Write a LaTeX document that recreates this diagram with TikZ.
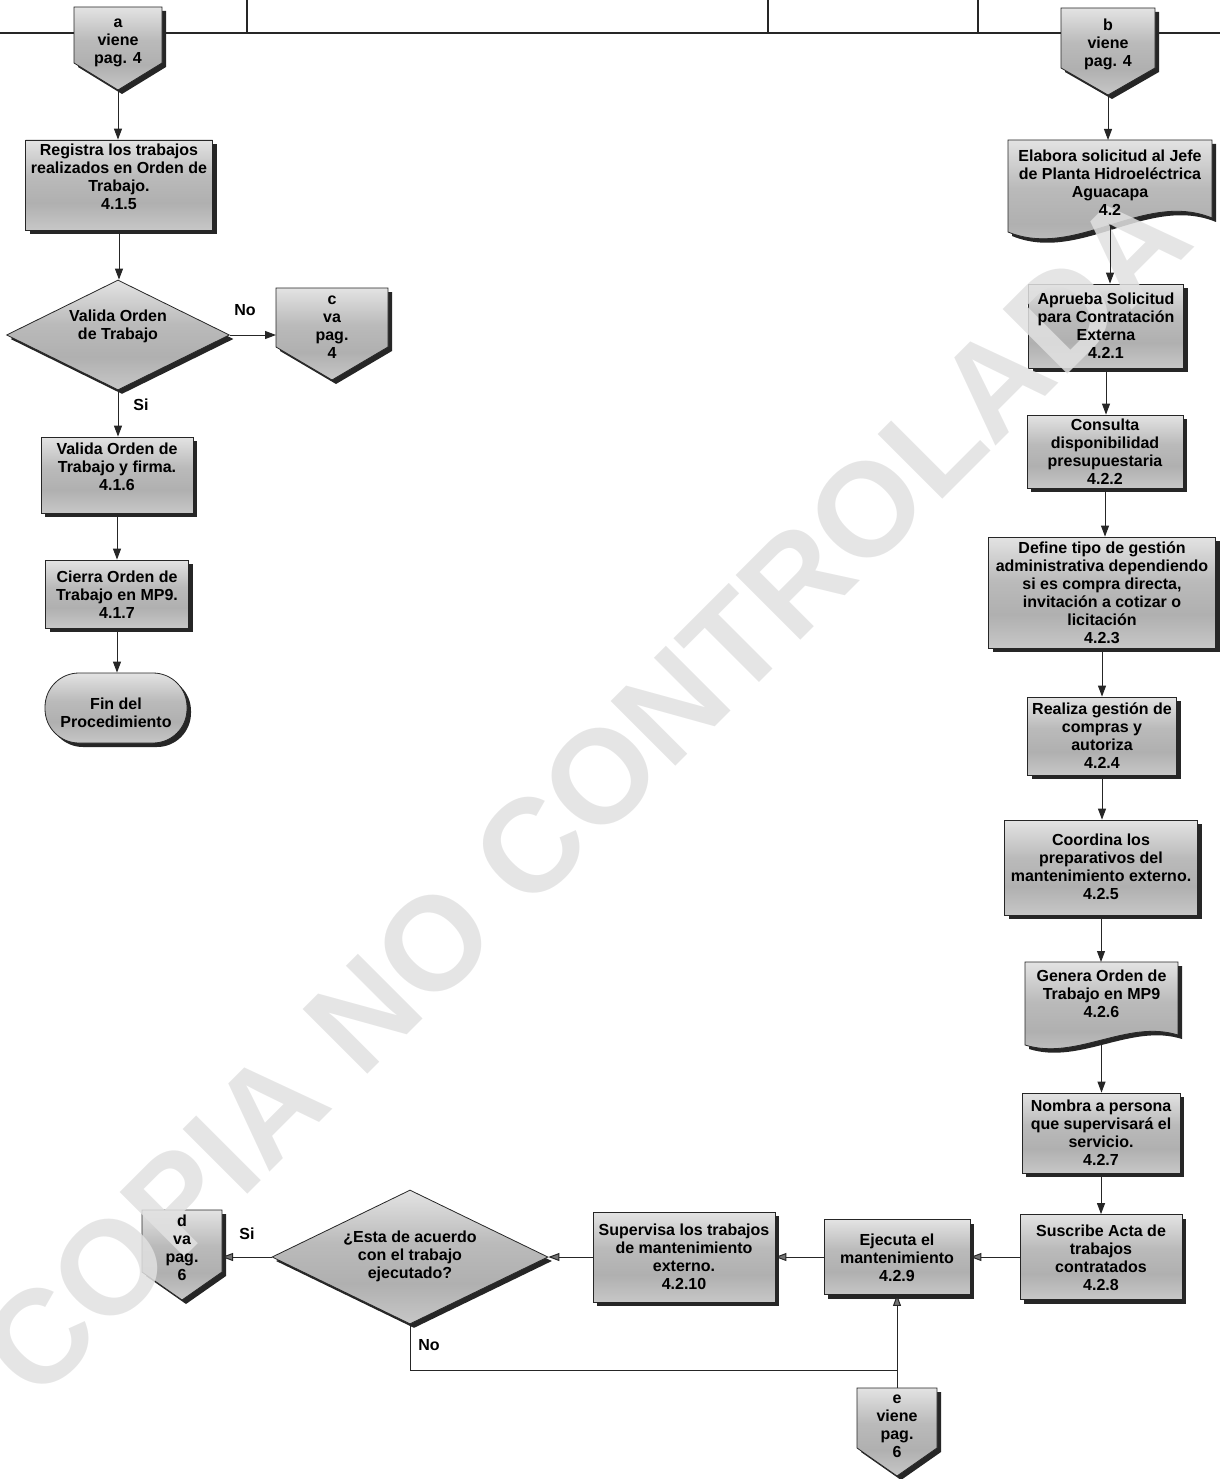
\documentclass[tikz,border=0pt]{standalone}
\usepackage{fontspec}
\setmainfont{Liberation Sans}
\usetikzlibrary{arrows.meta,shapes.geometric,shadows}

% grey bevel-like fill of the flowchart symbols (light top, darker lower middle)
\pgfdeclareverticalshading{boxshade}{100bp}{%
  color(0bp)=(black!22); color(25bp)=(black!22); color(40bp)=(black!31);
  color(55bp)=(black!27); color(75bp)=(black!11); color(100bp)=(black!11)}

\definecolor{wmgray}{RGB}{225,225,225}

% symbols are filled below the watermark, their texts and the flow lines above it
\pgfdeclarelayer{shapes}
\pgfdeclarelayer{mark}
\pgfsetlayers{shapes,mark,main}

\tikzset{
  txt/.style={font=\bfseries\fontsize{16}{18}\selectfont, align=center, inner sep=0pt},
  shapeframe/.style={draw=black!85, line width=0.8pt, shading=boxshade},
  dshadow/.style={drop shadow={shadow xshift=4pt, shadow yshift=-4pt, fill=black!85, opacity=1}},
  proc/.style={rectangle, shapeframe, shade, dshadow},
  decision/.style={diamond, aspect=2, shapeframe, shade, dshadow},
  terminal/.style={rectangle, rounded corners=34pt, shapeframe, shade, dshadow},
  flow/.style={draw=black!85, line width=1pt},
  arr/.style={flow, -{Triangle[length=11pt,width=8pt]}},
  arrg/.style={flow, -{Triangle[length=11pt,width=8pt,fill=black!55]}},
  lbl/.style={txt},
  frame/.style={draw=black!85, line width=1.3pt},
  wm/.style={font=\bfseries\fontsize{133}{133}\selectfont, text=wmgray, text opacity=0.85, inner sep=0pt}
}

% symbol with text: style, name, x, y, width, height, text y, text
\newcommand{\flowbox}[8]{%
  \begin{pgfonlayer}{shapes}
    \node[#1, minimum width=#5pt, minimum height=#6pt, inner sep=0pt] (#2) at (#3,#4) {};
  \end{pgfonlayer}
  \node[txt] (#2-text) at (#3,#7) {#8};
}

% off-page connector: name, centre x, top y, half width, side bottom y, tip y, text y, text
\newcommand{\offpage}[8]{%
  \begin{pgfonlayer}{shapes}
  \fill[black!85] (#2-#4+4,#3+4) -- (#2+#4+4,#3+4) -- (#2+#4+4,#5+4) -- (#2+4,#6+4) -- (#2-#4+4,#5+4) -- cycle;
  \shadedraw[shapeframe] (#2-#4,#3) -- (#2+#4,#3) -- (#2+#4,#5) -- (#2,#6) -- (#2-#4,#5) -- cycle;
  \end{pgfonlayer}
  \coordinate (#1-top) at (#2,#3);
  \coordinate (#1-tip) at (#2,#6);
  \coordinate (#1-west) at (#2-#4,#3+30);
  \coordinate (#1-east) at (#2+#4,#3+30);
  \node[txt] (#1) at (#2,#7) {#8};
}

% document symbol: name, left x, right x, top y, left bottom y, right bottom y, wave, text y, text
\newcommand{\docshape}[9]{%
  \begin{pgfonlayer}{shapes}
  \fill[black!85] (#2+4,#4+4) -- (#3+4,#4+4) -- (#3+4,#6+4)
    .. controls ({#2+2*(#3-#2)/3+4},#6-#7+4) and ({#2+(#3-#2)/3+4},#5+#7+4) .. (#2+4,#5+4) -- cycle;
  \shadedraw[shapeframe] (#2,#4) -- (#3,#4) -- (#3,#6)
    .. controls ({#2+2*(#3-#2)/3},#6-#7) and ({#2+(#3-#2)/3},#5+#7) .. (#2,#5) -- cycle;
  \end{pgfonlayer}
  \coordinate (#1-top) at ({(#2+#3)/2},#4);
  \coordinate (#1-bot) at ({(#2+#3)/2},{(#5+#6)/2});
  \node[txt] (#1) at ({(#2+#3)/2},#8) {#9};
}

\begin{document}
\begin{tikzpicture}[x=1pt,y=-1pt]
\useasboundingbox (0,0) rectangle (1220,1479);

% lane header lines
\coordinate (hl) at (0,33);
\coordinate (hr) at (1220,33);
\begin{pgfonlayer}{shapes}
\draw[frame] (hl) -- (hr);
\foreach \lx in {247,768,978} \draw[frame] (\lx,0) -- (\lx,33);
\end{pgfonlayer}

% ---- left lane ----
\offpage{a}{118}{7}{44}{63}{90}{43}{a\\viene\\pag. 4}
\flowbox{proc}{p415}{119}{185}{187}{90}{177}{Registra los trabajos\\realizados en Orden de\\Trabajo.\\4.1.5}
\flowbox{decision}{dia1}{118}{335}{223}{110}{326}{Valida Orden\\de Trabajo}
\offpage{c}{332}{288}{56}{347}{380}{327}{c\\va\\pag.\\4}
\flowbox{proc}{p416}{117}{475}{152}{76}{467}{Valida Orden de\\Trabajo y firma.\\4.1.6}
\flowbox{proc}{p417}{117}{594}{143}{68}{595}{Cierra Orden de\\Trabajo en MP9.\\4.1.7}
\flowbox{terminal}{fin}{116}{708}{142}{70}{713}{Fin del\\Procedimiento}
\node[lbl] (no1) at (245,310) {No};
\node[lbl] (si1) at (141,405) {Si};

% ---- right lane ----
\offpage{b}{1108}{8}{47}{68}{95}{44}{b\\viene\\pag. 4}
\docshape{d42}{1008}{1212}{140}{232}{218}{28}{183}{Elabora solicitud al Jefe\\de Planta Hidroeléctrica\\Aguacapa\\4.2}
\flowbox{proc}{p421}{1106}{326}{155}{84}{326}{Aprueba Solicitud\\para Contratación\\Externa\\4.2.1}
\flowbox{proc}{p422}{1105}{451.5}{156}{73}{452}{Consulta\\disponibilidad\\presupuestaria\\4.2.2}
\flowbox{proc}{p423}{1102}{592.5}{227}{111}{593}{Define tipo de gestión\\administrativa dependiendo\\si es compra directa,\\invitación a cotizar o\\licitación\\4.2.3}
\flowbox{proc}{p424}{1102}{736}{149}{78}{736}{Realiza gestión de\\compras y\\autoriza\\4.2.4}
\flowbox{proc}{p425}{1101}{867.5}{193}{95}{867}{Coordina los\\preparativos del\\mantenimiento externo.\\4.2.5}
\docshape{d426}{1025}{1178}{962}{1045}{1035}{16}{994}{Genera Orden de\\Trabajo en MP9\\4.2.6}
\flowbox{proc}{p427}{1101}{1133}{158}{80}{1133}{Nombra a persona\\que supervisará el\\servicio.\\4.2.7}
\flowbox{proc}{p428}{1101}{1257}{162}{85}{1258}{Suscribe Acta de\\trabajos\\contratados\\4.2.8}

% ---- bottom row ----
\flowbox{proc}{p429}{897}{1257}{146}{75}{1258}{Ejecuta el\\mantenimiento\\4.2.9}
\flowbox{proc}{p4210}{684}{1257}{182}{90}{1257}{Supervisa los trabajos\\de mantenimiento\\externo.\\4.2.10}
\flowbox{decision}{dia2}{410}{1257}{276}{134}{1256}{¿Esta de acuerdo\\con el trabajo\\ejecutado?}
\offpage{d}{182}{1210}{40}{1272}{1300}{1248}{d\\va\\pag.\\6}
\offpage{e}{897}{1388}{40}{1448}{1476}{1426}{e\\viene\\pag.\\6}
\node[lbl] (si2) at (247,1234) {Si};
\node[lbl] (no2) at (429,1345) {No};
\coordinate (merge) at (897,1370);

% ---- connectors ----
\draw[arr] (a-tip) -- (a-tip |- p415.north);
\draw[arr] (p415.south) -- (p415.south |- dia1.north);
\draw[arr] (dia1.east) -- (dia1.east -| c-west);
\draw[arr] (dia1.south) -- (dia1.south |- p416.north);
\draw[arr] (p416.south) -- (p416.south |- p417.north);
\draw[arr] (p417.south) -- (p417.south |- fin.north);

\draw[arr] (b-tip) -- (b-tip |- d42-top);
\draw[arr] (d42-bot) -- (d42-bot |- p421.north);
\draw[arr] (p421.south) -- (p421.south |- p422.north);
\draw[arr] (p422.south) -- (p422.south |- p423.north);
\draw[arr] (p423.south) -- (p423.south |- p424.north);
\draw[arr] (p424.south) -- (p424.south |- p425.north);
\draw[arr] (p425.south) -- (p425.south |- d426-top);
\draw[arr] (d426-bot) -- (d426-bot |- p427.north);
\draw[arr] (p427.south) -- (p427.south |- p428.north);

\draw[arrg] (p428.west) -- (p428.west -| p429.east);
\draw[arrg] (p429.west) -- (p429.west -| p4210.east);
\draw[arrg] (p4210.west) -- (p4210.west -| dia2.east);
\draw[arrg] (dia2.west) -- (dia2.west -| d-east);
\draw[arrg] (e-top) -- (e-top |- p429.south);
\draw[flow] (dia2.south) |- (merge);

% ---- watermark ----
\begin{pgfonlayer}{mark}
\node[wm, rotate=45] (wmark) at (585,792) {COPIA NO CONTROLADA};
\end{pgfonlayer}
\end{tikzpicture}
\end{document}
